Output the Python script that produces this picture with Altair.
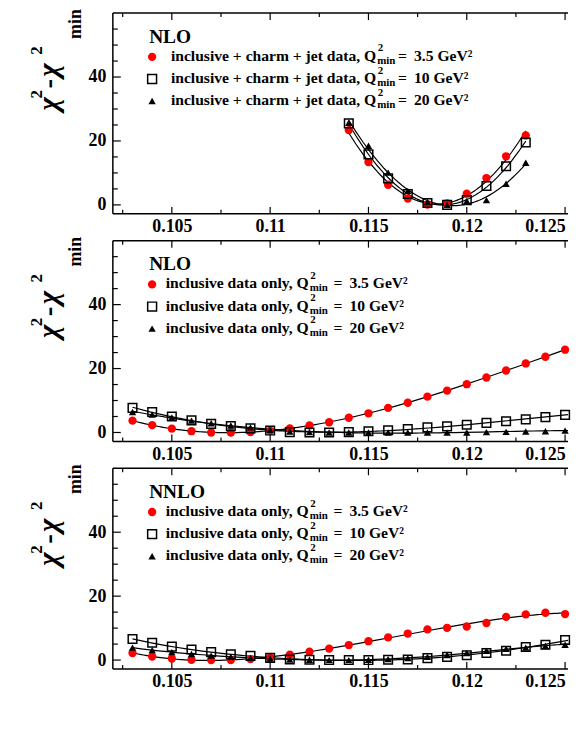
import altair as alt
import pandas as pd

# ---------------- data ----------------
ALPHA_1 = [0.114, 0.115, 0.116, 0.117, 0.118, 0.119, 0.120, 0.121, 0.122, 0.123]
P1_RED = [23.4, 13.4, 6.3, 2.0, 0.1, 0.5, 3.5, 8.4, 15.2, 21.7]
P1_SQ = [25.5, 15.8, 8.3, 3.4, 0.6, 0.0, 1.5, 5.9, 12.1, 19.5]
P1_TRI = [25.7, 18.5, 10.1, 4.4, 0.9, 0.0, 1.2, 1.5, 6.6, 13.2]

ALPHA_2 = [0.103, 0.104, 0.105, 0.106, 0.107, 0.108, 0.109, 0.110, 0.111, 0.112,
           0.113, 0.114, 0.115, 0.116, 0.117, 0.118, 0.119, 0.120, 0.121, 0.122,
           0.123, 0.124, 0.125, 0.126]
P2_RED = [3.7, 2.3, 1.2, 0.4, 0.0, 0.0, 0.1, 0.6, 1.3, 2.2, 3.2, 4.6, 6.0, 7.7,
          9.3, 11.2, 13.1, 15.1, 17.2, 19.4, 21.6, 23.7, 25.9, 28.1]
P2_SQ = [7.7, 6.4, 5.0, 3.8, 2.7, 2.0, 1.3, 0.6, 0.1, 0.0, 0.0, 0.1, 0.4, 0.7,
         1.1, 1.6, 1.9, 2.4, 3.0, 3.5, 4.1, 4.8, 5.5, 6.2]
P2_TRI = [6.4, 5.6, 4.7, 3.7, 2.9, 2.2, 1.6, 0.8, 0.3, 0.1, 0.0, 0.0, 0.0, 0.0,
          0.0, 0.0, 0.0, 0.0, 0.1, 0.2, 0.3, 0.4, 0.6, 0.8]
P3_RED = [2.2, 1.1, 0.5, 0.1, 0.0, 0.0, 0.3, 0.8, 1.7, 2.6, 3.6, 4.7, 5.9, 7.1,
          8.3, 9.6, 10.1, 10.5, 11.6, 13.5, 14.3, 14.8, 14.4, 14.8]
P3_SQ = [6.6, 5.4, 4.2, 3.3, 2.5, 1.8, 1.3, 0.7, 0.2, 0.1, 0.0, 0.0, 0.0, 0.1,
         0.2, 0.6, 1.0, 1.5, 2.2, 2.9, 4.1, 4.8, 6.3, 7.0]
P3_TRI = [3.9, 3.1, 2.5, 1.9, 1.4, 1.0, 0.7, 0.5, 0.2, 0.1, 0.0, 0.0, 0.1, 0.3,
          0.6, 1.0, 1.6, 2.2, 2.9, 3.5, 3.9, 4.4, 4.8, 5.3]

X_MAJOR = [0.105, 0.11, 0.115, 0.12, 0.125]
X_MINOR = [0.1025, 0.1075, 0.1125, 0.1175, 0.1225]
Y_MAJOR = [0, 20, 40]
Y_MINOR = [5, 10, 15, 25, 30, 35, 45, 50, 55]

Q_VALUES = ["3.5", "10", "20"]

# ---------------- styling ----------------
FONT = "Liberation Serif"
W, H = 458, 202
XDOM = [0.102, 0.12515]
YDOM = [-2.8, 60]
RED = "#ff0000"

xs = alt.Scale(domain=XDOM, nice=False, zero=False)
ys = alt.Scale(domain=YDOM, nice=False, zero=False)
xaxis = alt.Axis(values=X_MAJOR, format="~g", title=None, grid=False, ticks=False,
                 domain=False, labelFont=FONT, labelFontWeight="bold",
                 labelFontSize=18, labelColor="black", labelPadding=4,
                 labelFlush=12, labelOverlap=False)
yaxis = alt.Axis(values=Y_MAJOR, format="d", title=None, grid=False, ticks=False,
                 domain=False, labelFont=FONT, labelFontWeight="bold",
                 labelFontSize=18, labelColor="black", labelPadding=7)

ONE = pd.DataFrame({"k": [1]})


def txt(s, x, y, size, align="left", angle=None, style=None):
    kw = dict(text=s, fontSize=size, font=FONT, fontWeight="bold", align=align,
              baseline="alphabetic", color="black")
    if angle is not None:
        kw["angle"] = angle
    if style is not None:
        kw["fontStyle"] = style
    return alt.Chart(ONE).mark_text(**kw).encode(x=alt.value(x), y=alt.value(y))


def sym(shape, filled, color, size, x, y):
    return alt.Chart(ONE).mark_point(shape=shape, filled=filled, color=color,
                                     size=size, strokeWidth=1.5, opacity=1).encode(
        x=alt.value(x), y=alt.value(y))


def border(x, x2, y, y2):
    return alt.Chart(ONE).mark_rule(color="black", strokeWidth=1.5).encode(
        x=alt.value(x), x2=alt.value(x2), y=alt.value(y), y2=alt.value(y2))


def panel(alpha, red, sq, tri, header, label, anchor, eqx, order):
    df = pd.DataFrame({
        "alpha": alpha * 3,
        "chi2": red + sq + tri,
        "series": ["a"] * len(alpha) + ["b"] * len(alpha) + ["c"] * len(alpha),
    })
    X = alt.X("alpha:Q", scale=xs, axis=xaxis)
    Y = alt.Y("chi2:Q", scale=ys, axis=yaxis)
    inview = alt.datum.alpha <= XDOM[1]
    layers = []
    # frame: left, top, bottom (right edge lies outside the picture)
    layers.append(border(0, 0, 0, H))
    layers.append(border(0, W, 0, 0))
    layers.append(border(0, W, H, H))
    # tick marks (inward)
    for vals, ln in ((X_MAJOR, 7), (X_MINOR, 4)):
        tdf = pd.DataFrame({"v": vals})
        tx = alt.X("v:Q", scale=xs, axis=xaxis)
        layers.append(alt.Chart(tdf).mark_rule(color="black", strokeWidth=1.2).encode(
            x=tx, y=alt.value(H), y2=alt.value(H - ln)))
        layers.append(alt.Chart(tdf).mark_rule(color="black", strokeWidth=1.2).encode(
            x=tx, y=alt.value(0), y2=alt.value(ln)))
    for vals, ln in ((Y_MAJOR, 8), (Y_MINOR, 5)):
        tdf = pd.DataFrame({"v": vals})
        ty = alt.Y("v:Q", scale=ys, axis=yaxis)
        layers.append(alt.Chart(tdf).mark_rule(color="black", strokeWidth=1.2).encode(
            y=ty, x=alt.value(0), x2=alt.value(ln)))
    # fitted curves
    ext = [min(alpha), min(max(alpha), XDOM[1])]
    layers.append(alt.Chart(df).transform_regression(
        "alpha", "chi2", method="poly", order=order, groupby=["series"], extent=ext
    ).mark_line(color="black", strokeWidth=1.2, clip=True).encode(
        x=X, y=Y, detail="series:N"))
    # points
    layers.append(alt.Chart(df).transform_filter(
        (alt.datum.series == "a") & inview).mark_point(
        shape="circle", filled=True, color=RED, size=70, opacity=1
    ).encode(x=X, y=Y))
    layers.append(alt.Chart(df).transform_filter(
        (alt.datum.series == "b") & inview).mark_point(
        shape="square", filled=False, color="black", size=75, strokeWidth=1.5,
        opacity=1).encode(x=X, y=Y))
    layers.append(alt.Chart(df).transform_filter(
        (alt.datum.series == "c") & inview).mark_point(
        shape="triangle-up", filled=True, color="black", size=55, opacity=1
    ).encode(x=X, y=Y))
    # legend block
    layers.append(txt(header, 36.5, 29.7, 19.5))
    base = [48.0, 70.3, 92.5]
    syms = [("circle", True, RED, 70), ("square", False, "black", 80),
            ("triangle-up", True, "black", 55)]
    for i, b in enumerate(base):
        shp, fil, col, sz = syms[i]
        layers.append(sym(shp, fil, col, sz, 39.5, b - 4))
        layers.append(txt(label, anchor, b, 15.7, align="right"))
        layers.append(txt("2", anchor + 1.5, b - 9.5, 11))
        layers.append(txt("min", anchor + 1, b + 3, 11))
        layers.append(txt("=\u00a0\u2009" + Q_VALUES[i] + " GeV\u00b2", eqx, b, 15.7))
    # y-axis title pieces (rotated)
    layers.append(txt("\u03c7", -55.5, 98, 29, angle=270, style="italic"))
    layers.append(txt("2", -71, 86, 17, angle=270))
    layers.append(txt("-", -55.5, 76, 29, angle=270))
    layers.append(txt("\u03c7", -55.5, 64, 29, angle=270, style="italic"))
    layers.append(txt("2", -71, 42, 17, angle=270))
    layers.append(txt("min", -32, 26, 18, angle=270))
    return alt.layer(*layers).properties(width=W, height=H)


p1 = panel(ALPHA_1, P1_RED, P1_SQ, P1_TRI, "NLO",
           "inclusive + charm + jet data, Q", 265, 287, 2)
p2 = panel(ALPHA_2, P2_RED, P2_SQ, P2_TRI, "NLO",
           "inclusive data only, Q", 197, 222, 4)
p3 = panel(ALPHA_2, P3_RED, P3_SQ, P3_TRI, "NNLO",
           "inclusive data only, Q", 197, 222, 5)

chart = alt.vconcat(p1, p2, p3, spacing=27, bounds="flush").properties(
    padding={"left": 20.5, "top": -2, "right": 0, "bottom": 0},
).configure_view(strokeWidth=0).configure_concat(spacing=27)

chart.save("out.html", embed_options={"renderer": "svg", "actions": False})
